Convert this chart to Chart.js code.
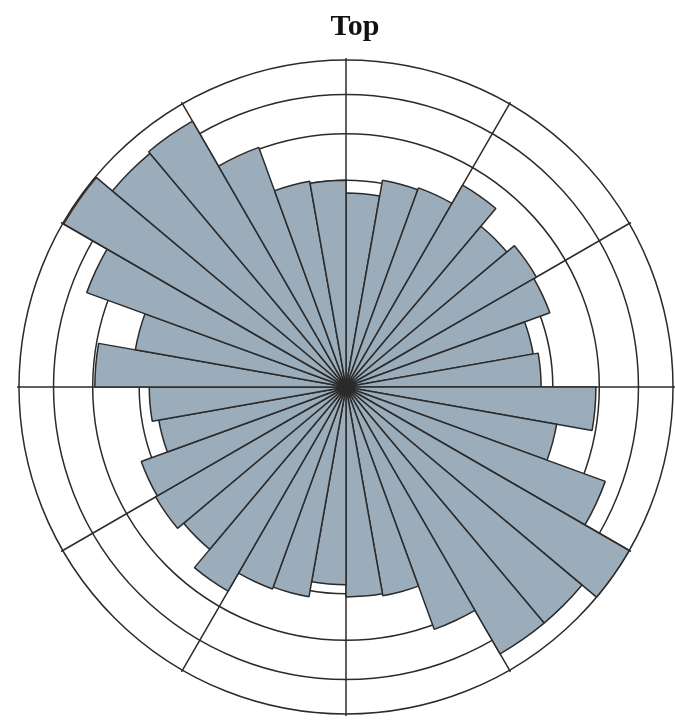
<!DOCTYPE html>
<html>
<head>
<meta charset="utf-8">
<title>Top</title>
<script src="https://cdn.jsdelivr.net/npm/chart.js@4"></script>
<style>
  html, body { margin: 0; padding: 0; background: #fff; overflow: hidden; }
  #wrap { width: 675px; height: 721px; }
</style>
</head>
<body>
<div id="wrap"><canvas id="rose"></canvas></div>
<script>
// 36 sectors of 10 degrees, clockwise from top
const directions = [];
for (let d = 0; d < 360; d += 10) directions.push(d + '°');

// sector values (area proportional, read against the rings)
const counts = [
    1.76, 2.06, 2.10, 2.54, 2.06, 2.26, 2.20, 1.69, 1.78,
    2.92, 2.14, 3.56, 5.00, 4.44, 4.44, 3.11, 2.10, 2.06,
    1.83, 2.12, 2.16, 2.60, 2.10, 2.26, 2.22, 1.69, 1.81,
    2.95, 2.14, 3.56, 4.97, 4.35, 4.41, 3.04, 2.04, 2.00
];

// ring values drawn as circles
const rings = [0, 1, 2, 3, 4, 5];

// title sits a little right of the plot centre
const nudgeTitle = {
    id: 'nudgeTitle',
    afterLayout(chart) {
        if (chart.titleBlock) chart.titleBlock.left += 18;
    }
};

const ctx = document.getElementById('rose').getContext('2d');
new Chart(ctx, {
    type: 'polarArea',
    data: {
        labels: directions,
        datasets: [{
            label: 'Top',
            // equal-area rose: radius grows with the square root
            data: counts.map(v => Math.sqrt(v)),
            backgroundColor: 'rgb(155,172,187)',
            borderColor: '#2b2b2b',
            borderWidth: 1.5
        }]
    },
    options: {
        responsive: true,
        maintainAspectRatio: false,
        animation: false,
        layout: {
            padding: { left: 17, right: 0, top: 0, bottom: 5 }
        },
        scales: {
            r: {
                min: 0,
                max: 2.2497,
                startAngle: 0,
                afterBuildTicks: scale => {
                    scale.ticks = rings.map(v => ({ value: Math.sqrt(v) }));
                },
                ticks: { display: false },
                grid: {
                    circular: true,
                    color: '#2b2b2b',
                    lineWidth: 1.5
                },
                angleLines: {
                    display: true,
                    color: c => (c.index % 3 === 0 ? '#2b2b2b' : 'rgba(0,0,0,0)'),
                    lineWidth: 1.5
                },
                pointLabels: { display: false }
            }
        },
        plugins: {
            legend: { display: false },
            tooltip: { enabled: false },
            title: {
                display: true,
                text: 'Top',
                color: '#111',
                font: { family: '"Liberation Serif", "DejaVu Serif", serif', size: 30, weight: 'bold' },
                padding: { top: 9, bottom: 13 }
            }
        }
    },
    plugins: [nudgeTitle]
});
</script>
</body>
</html>
